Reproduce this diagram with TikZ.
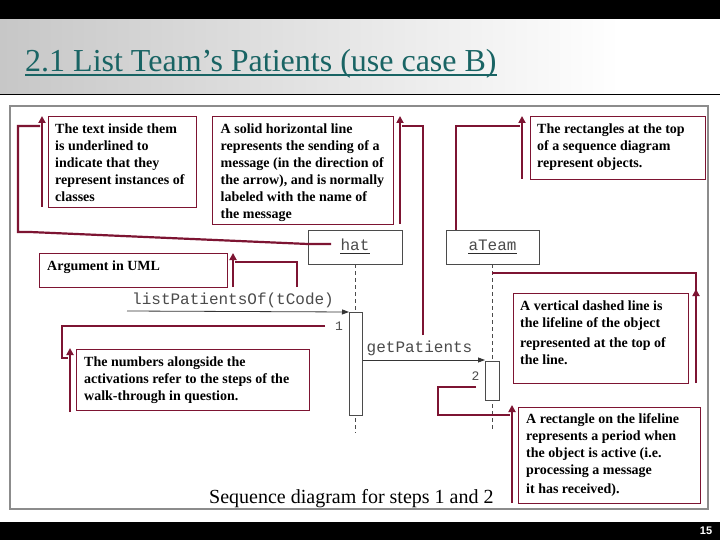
\documentclass[tikz,border=0pt]{standalone}
\usepackage{fontspec}
\setmainfont{Liberation Serif}
\setmonofont{Liberation Mono}
\setsansfont{Liberation Sans}
\usetikzlibrary{arrows.meta}
\definecolor{maroon}{RGB}{125,20,50}
\definecolor{titleteal}{RGB}{25,100,100}
\definecolor{diag}{RGB}{75,75,75}
\definecolor{framegray}{RGB}{140,140,140}
\begin{document}
\begin{tikzpicture}[x=1pt,y=-1pt,
  cbox/.style={draw=maroon, line width=0.8pt, anchor=north west, inner sep=0pt},
  ctext/.style={anchor=north west, inner sep=0pt, align=left, font=\fontsize{14}{17}\selectfont\bfseries, text=black},
  conn/.style={draw=maroon, line width=2.2pt},
  upa/.style={conn, -{Triangle[length=7pt,width=7pt]}},
  obj/.style={draw=diag, line width=0.8pt, anchor=north west, inner sep=0pt},
  act/.style={draw=diag, fill=white, line width=0.8pt, anchor=north west, inner sep=0pt},
  life/.style={draw=diag, line width=0.8pt, dash pattern=on 4pt off 3pt},
  msg/.style={draw=diag!70!black, line width=0.8pt, -{Triangle[length=7pt,width=5pt]}},
  mono/.style={inner sep=0pt, font=\fontsize{16}{18}\selectfont\ttfamily, text=diag},
  num/.style={inner sep=0pt, font=\fontsize{13}{15}\selectfont\ttfamily, text=diag}
]
\useasboundingbox (0,0) rectangle (720,540);
\fill[white] (0,0) rectangle (720,540);
% header
\shade[left color=black!22, right color=white] (0,19) rectangle (620,94);
\fill[black] (0,0) rectangle (720,19);
\draw[black, line width=1.5pt] (0,94.5) -- (720,94.5);
\node[anchor=base west, inner sep=0pt, font=\fontsize{32}{36}\selectfont, text=titleteal] (title) at (25,72) {2.1 List Team’s Patients (use case B)};
\draw[titleteal, line width=2pt] ([yshift=-3.5pt]title.base west) -- ([yshift=-3.5pt]title.base east);
% footer
\fill[black] (0,522) rectangle (720,540);
\node[inner sep=0pt, font=\fontsize{11}{12}\selectfont\sffamily\bfseries, text=white] (pg) at (706,531) {15};
% frame
\draw[framegray, line width=2pt] (10,106) rectangle (708,509);

% sequence diagram
\node[obj, minimum width=94pt, minimum height=34pt] (hatbox) at (308,230) {};
\node[obj, minimum width=93pt, minimum height=34pt] (teambox) at (446,230) {};
\node[mono, anchor=base] (hatt) at (355,250.5) {hat};
\node[mono, anchor=base] (teamt) at (492.5,250.5) {aTeam};
\draw[diag!60!black, line width=1.3pt] ([yshift=-2.8pt]hatt.base west) -- ([yshift=-2.8pt]hatt.base east);
\draw[diag!60!black, line width=1.3pt] ([yshift=-2.8pt]teamt.base west) -- ([yshift=-2.8pt]teamt.base east);
\coordinate (hl0) at (355.5,264);
\coordinate (hl1) at (355.5,433);
\coordinate (tl0) at (492,264);
\coordinate (tl1) at (492,430);
\draw[life] (hl0) -- (hl1);
\draw[life] (tl0) -- (tl1);
\node[act, minimum width=13pt, minimum height=103pt] (act1) at (349,312) {};
\node[act, minimum width=14pt, minimum height=39pt] (act2) at (485,361) {};
\coordinate (m1s) at (127,311);
\draw[msg] (m1s) -- (act1.north west);
\draw[msg] (act1.east |- 0,360) -- (act2.west |- 0,360);
\node[mono, anchor=base west] (m1lab) at (132,304) {listPatientsOf(tCode)};
\node[mono, anchor=base west] (m2lab) at (366.5,352) {getPatients};
\node[num, anchor=base] (n1) at (339,330) {1};
\node[num, anchor=base] (n2) at (475.5,380) {2};

% callout boxes
\node[cbox, minimum width=148pt, minimum height=91pt] (boxA) at (48,116) {};
\node[ctext] (txtA) at (55,123.5) {The text inside them\\is underlined to\\indicate that they\\represent instances of\\classes};
\node[cbox, minimum width=181pt, minimum height=108pt] (boxB) at (212,116) {};
\node[ctext] (txtB) at (220.5,123.5) {A solid horizontal line\\represents the sending of a\\message (in the direction of\\the arrow), and is normally\\labeled with the name of\\the message};
\node[cbox, minimum width=175pt, minimum height=63pt] (boxC) at (530,116) {};
\node[ctext] (txtC) at (537,123.5) {The rectangles at the top\\of a sequence diagram\\represent objects.};
\node[cbox, minimum width=188pt, minimum height=34pt] (boxArg) at (39,253) {};
\node[ctext] (txtArg) at (47,260.5) {Argument in UML};
\node[cbox, minimum width=233pt, minimum height=61pt] (boxNum) at (76,349) {};
\node[ctext] (txtNum) at (84,356.5) {The numbers alongside the\\activations refer to the steps of the\\walk-through in question.};
\node[cbox, minimum width=175pt, minimum height=90pt] (boxLife) at (513,293) {};
\node[ctext] (txtLife) at (520,300.5) {A vertical dashed line is\\the lifeline of the object\\[3pt]represented at the top of\\the line.};
\node[cbox, minimum width=182pt, minimum height=96pt] (boxRect) at (518,407) {};
\node[ctext] (txtRect) at (526,413.5) {A rectangle on the lifeline\\represents a period when\\the object is active (i.e.\\processing a message\\[2pt]it has received).};

\node[anchor=base west, inner sep=0pt, font=\fontsize{20}{22}\selectfont] (caption) at (209,503) {Sequence diagram for steps 1 and 2};

% connectors
\coordinate (aA0) at (42,207);
\coordinate (aA1) at (42,116);
\draw[upa] (aA0) -- (aA1);
\coordinate (cA0) at (331,244);
\draw[conn] (cA0) -- (308,244) -- (30,232) -- (18,232) -- (18,126) -- (40,126);

\coordinate (aB0) at (400,224);
\coordinate (aB1) at (400,116);
\draw[upa] (aB0) -- (aB1);
\coordinate (cB0) at (423,335);
\draw[conn] (cB0) |- (402,126);

\coordinate (aC0) at (522,179);
\coordinate (aC1) at (522,116);
\draw[upa] (aC0) -- (aC1);
\draw[conn] (teambox.north west -| 456,0) |- (520,126);

\coordinate (aArg0) at (233,287);
\coordinate (aArg1) at (233,253);
\draw[upa] (aArg0) -- (aArg1);
\coordinate (cArg0) at (297,287);
\draw[conn] (cArg0) |- (235,262);

\coordinate (aNum0) at (70,412);
\coordinate (aNum1) at (70,348);
\draw[upa] (aNum0) -- (aNum1);
\coordinate (cNum0) at (325,326);
\draw[conn] (cNum0) -- (62,326) -- (62,358) -- (68,358);

\coordinate (aLife0) at (696,383);
\coordinate (aLife1) at (696,289);
\draw[upa] (aLife0) -- (aLife1);
\coordinate (cLife0) at (492,273);
\draw[conn] (cLife0) -| (696,292);

\coordinate (aRect0) at (512,503);
\coordinate (aRect1) at (512,405);
\draw[upa] (aRect0) -- (aRect1);
\coordinate (cRect0) at (476,387);
\draw[conn] (cRect0) -- (438,387) -- (438,415) -- (510,415);
\end{tikzpicture}
\end{document}
